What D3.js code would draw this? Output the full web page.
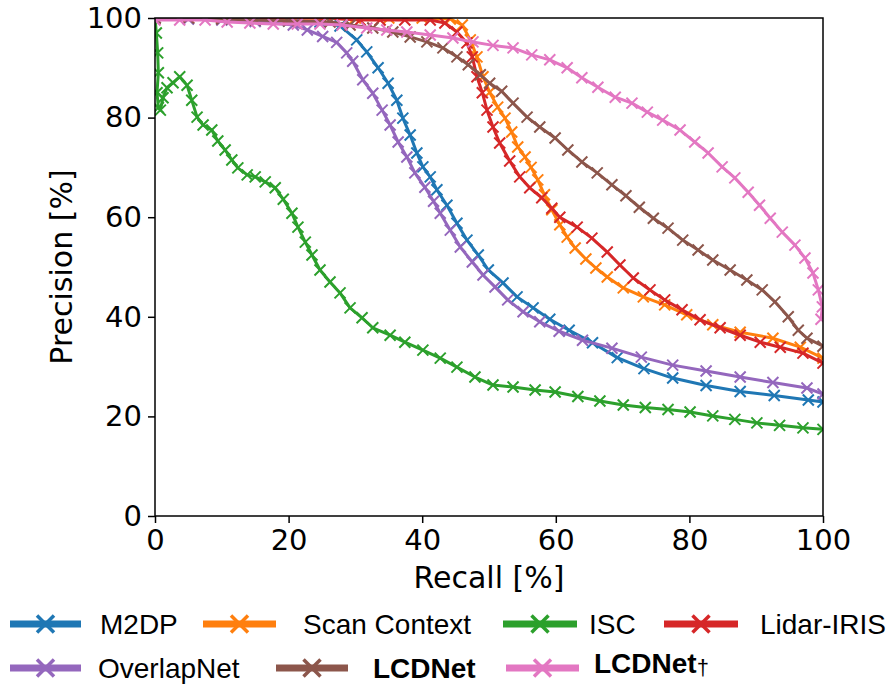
<!DOCTYPE html>
<html>
<head>
<meta charset="utf-8">
<script src="https://cdn.jsdelivr.net/npm/d3@7.9.0/dist/d3.min.js"></script>
<style>
  body { margin: 0; background: #fff; }
  svg { display: block; }
</style>
</head>
<body>
<svg id="chart" width="892" height="686"></svg>
<script>
// recall / precision values, in percent
const m2dpRecall = [0, 5, 10, 15, 20, 24.7, 27.7, 30.2, 31.7, 33.4, 34.9, 36.2, 37.1, 38.2, 39.2, 40.1, 41.2, 42.2, 43.7, 45.2, 46.7, 48.4, 49.9, 52.1, 54.2, 56.6, 59.1, 62, 65.5, 69.2, 73.2, 77.5, 82.5, 87.6, 92.7, 97.8, 100];
const m2dpPrecision = [100, 99.9, 99.8, 99.6, 99.4, 99.2, 98.4, 95.6, 93.2, 90, 86.9, 83.5, 79.9, 76.5, 72.9, 70.1, 68.1, 65.5, 62.4, 58.8, 55.4, 52.4, 49.4, 46.8, 44, 41.8, 39.5, 37.3, 34.8, 31.8, 29.6, 27.7, 26.2, 25, 24.2, 23.3, 22.9];

const scRecall = [0, 5, 10, 15, 20, 25, 30, 35, 40, 44.2, 46, 47.2, 48.2, 49.1, 50.1, 51.3, 52.4, 53.4, 54.3, 55.4, 56.3, 57.3, 58.3, 59.4, 60.6, 61.7, 62.9, 64.5, 66, 67.7, 70.1, 73.1, 76.3, 79.6, 83.5, 87.6, 92.5, 96.6, 100];
const scPrecision = [100, 100, 100, 100, 100, 100, 100, 100, 100, 99.8, 98.6, 95.6, 92.2, 88.2, 85.1, 82.1, 79.9, 77.1, 74.1, 72.1, 70, 67.5, 64.5, 61.5, 58.5, 56, 53.8, 51.6, 49.8, 48, 45.8, 44, 42.4, 40.4, 38.4, 36.9, 35.7, 33.9, 31.7];

const iscRecall = [0, 0.2, 0.4, 0.5, 0.3, 0.5, 0.8, 1.2, 1.8, 2.7, 3.7, 4.8, 5.5, 6.3, 7.2, 8.5, 9.4, 10.5, 11.5, 12.4, 13.8, 15.0, 16.5, 18.0, 19.2, 20.5, 21.4, 22.5, 23.5, 24.7, 26.2, 27.7, 29.2, 31.0, 32.6, 35.2, 37.4, 40.1, 42.7, 45.2, 47.9, 50.6, 53.6, 56.9, 59.9, 63.3, 66.6, 70.1, 73.4, 76.8, 80.1, 83.5, 86.8, 90.1, 93.5, 97.0, 100];
const iscPrecision = [100, 97, 93, 89, 85, 82, 81.5, 84, 86, 87, 88.2, 86.5, 83.5, 80.1, 78.5, 77.5, 75.3, 73.5, 71.5, 69.9, 68.5, 68.1, 67.1, 65.9, 63.6, 60.8, 58, 55, 52.4, 49.4, 47, 44.8, 41.8, 39.8, 37.8, 36.3, 34.9, 33.3, 31.7, 29.9, 27.9, 26.3, 25.9, 25.3, 24.9, 24, 23.1, 22.3, 21.8, 21.4, 20.9, 20.1, 19.4, 18.7, 18.2, 17.7, 17.4];

const irisRecall = [0, 5, 10, 15, 20, 25, 30.7, 33.7, 37.4, 41.2, 43.4, 45.2, 46.7, 47.5, 48.2, 49, 49.7, 50.6, 51.6, 53.1, 54.6, 56.1, 57.9, 59.4, 60.6, 63.2, 65.4, 67.7, 69.6, 71.6, 74.1, 76.3, 78.9, 81.6, 84.6, 87.6, 90.6, 93.6, 97, 100];
const irisPrecision = [100, 100, 100, 100, 100, 100, 99.6, 99.6, 99.6, 99.6, 99, 97.2, 95, 92.2, 88.2, 85, 81.5, 78.1, 74.9, 71.3, 68.1, 65.9, 63.9, 61.8, 60, 58, 55.8, 53, 50.4, 47.8, 45.4, 43.4, 41.4, 39.4, 37.8, 36.3, 34.9, 33.9, 32.7, 30.7];

const overlapRecall = [0, 5, 10, 15, 20.7, 22.8, 25.1, 27.2, 28.7, 29.6, 31.1, 32.6, 34, 35.2, 36.4, 37.7, 38.9, 40.4, 41.7, 42.7, 44.2, 45.7, 47.5, 49.1, 50.9, 52.8, 55.1, 57.6, 60.5, 64, 68.4, 72.8, 77.5, 82.5, 87.6, 92.5, 97.6, 100];
const overlapPrecision = [100, 99.8, 99.6, 99.3, 98.6, 97.6, 96.3, 95.1, 93, 91.3, 87.6, 84.9, 81.5, 78.5, 75.1, 72.1, 68.9, 66, 63.2, 60.8, 57.4, 54, 51, 48.4, 46, 43.4, 41, 39, 37.1, 35.3, 33.7, 31.9, 30.3, 29.1, 27.9, 26.8, 25.7, 24.5];

const lcdRecall = [0, 5, 10, 15, 20, 26.2, 29.2, 32.6, 35.6, 38.2, 40.7, 43.1, 45.2, 46.9, 48.7, 50.1, 51.9, 53.6, 55.7, 57.6, 59.9, 61.8, 63.9, 66.2, 68.4, 70.5, 72.5, 74.6, 76.8, 79, 81.3, 83.5, 86.1, 88.6, 90.9, 92.8, 94.8, 96.3, 97.6, 100];
const lcdPrecision = [100, 100, 99.8, 99.6, 99.4, 99.2, 98.6, 98, 97.2, 96.2, 95.2, 94, 92.2, 90.6, 88.6, 86.9, 85.3, 82.9, 80.1, 78.1, 75.9, 73.5, 71.1, 68.9, 66.5, 64.3, 62, 59.8, 57.8, 55.4, 53.4, 51.4, 49.4, 47.4, 45.4, 43, 40, 37.3, 35.7, 34.1];

const lcdDagRecall = [0, 3.7, 7.5, 10.8, 14.2, 17.7, 21.3, 24.7, 28, 31.7, 34.7, 37.7, 41.2, 44.6, 47.6, 50.6, 53.6, 56.4, 59.1, 61.7, 63.9, 66.3, 68.9, 71.4, 73.7, 76, 78.6, 80.8, 82.8, 84.9, 86.8, 88.8, 90.5, 92.1, 93.9, 95.8, 97.3, 98.5, 99.3, 99.9, 99.7];
const lcdDagPrecision = [99.6, 99.6, 99.6, 99.2, 99, 98.8, 98.8, 98.8, 98.6, 98, 97.6, 97.2, 96.6, 96, 95.2, 94.5, 94, 92.6, 91.6, 90, 88, 86.1, 84.1, 82.9, 81.1, 79.5, 77.5, 75.1, 72.9, 70.1, 67.9, 65, 62.4, 59.8, 57, 54.4, 51.8, 48.8, 45.4, 42, 39.5];

const seriesNames = ["M2DP", "Scan Context", "ISC", "Lidar-IRIS", "OverlapNet", "LCDNet", "LCDNet"];
const seriesColors = ["#1f77b4", "#ff7f0e", "#2ca02c", "#d62728", "#9467bd", "#8c564b", "#e377c2"];
const seriesRecall = [m2dpRecall, scRecall, iscRecall, irisRecall, overlapRecall, lcdRecall, lcdDagRecall];
const seriesPrecision = [m2dpPrecision, scPrecision, iscPrecision, irisPrecision, overlapPrecision, lcdPrecision, lcdDagPrecision];

const xTicks = [0, 20, 40, 60, 80, 100];
const yTicks = [0, 20, 40, 60, 80, 100];

const svg = d3.select("#chart");
const plotLeft = 155, plotRight = 823, plotTop = 18, plotBottom = 516;
const axisFont = "DejaVu Sans, sans-serif";

const x = d3.scaleLinear().domain([0, 100]).range([plotLeft, plotRight]);
const y = d3.scaleLinear().domain([0, 100]).range([plotBottom, plotTop]);

svg.append("defs").append("clipPath").attr("id", "plot-clip")
  .append("rect").attr("x", plotLeft).attr("y", plotTop)
  .attr("width", plotRight - plotLeft).attr("height", plotBottom - plotTop);

const line = d3.line().x((d) => x(d[0])).y((d) => y(d[1]));

function crossPath(s) {
  return `M${-s},${-s}L${s},${s}M${-s},${s}L${s},${-s}`;
}

const plot = svg.append("g").attr("clip-path", "url(#plot-clip)");

seriesNames.forEach((name, i) => {
  const pts = seriesRecall[i].map((r, j) => [r, seriesPrecision[i][j]]);
  const g = plot.append("g");
  g.append("path")
    .attr("d", line(pts))
    .attr("fill", "none")
    .attr("stroke", seriesColors[i])
    .attr("stroke-width", 3)
    .attr("stroke-linejoin", "round");
  g.selectAll("path.mk")
    .data(pts)
    .join("path")
    .attr("class", "mk")
    .attr("d", crossPath(5.5))
    .attr("transform", (d) => `translate(${x(d[0])},${y(d[1])})`)
    .attr("stroke", seriesColors[i])
    .attr("stroke-width", 2);
});

// axes
const xAxis = svg.append("g").attr("transform", `translate(0,${plotBottom})`)
  .call(d3.axisBottom(x).tickValues(xTicks).tickSize(7).tickPadding(6));
const yAxis = svg.append("g").attr("transform", `translate(${plotLeft},0)`)
  .call(d3.axisLeft(y).tickValues(yTicks).tickSize(7).tickPadding(6));

[xAxis, yAxis].forEach((ax) => {
  ax.select(".domain").remove();
  ax.selectAll(".tick line").attr("stroke", "#000").attr("stroke-width", 1.5);
  ax.selectAll(".tick text").attr("font-family", axisFont).attr("font-size", 29).attr("fill", "#000");
});

svg.append("rect")
  .attr("x", plotLeft).attr("y", plotTop)
  .attr("width", plotRight - plotLeft).attr("height", plotBottom - plotTop)
  .attr("fill", "none").attr("stroke", "#000").attr("stroke-width", 1.5);

svg.append("text")
  .attr("x", (plotLeft + plotRight) / 2).attr("y", 588)
  .attr("text-anchor", "middle")
  .attr("font-family", axisFont).attr("font-size", 30)
  .text("Recall [%]");

svg.append("text")
  .attr("transform", `translate(72,${(plotTop + plotBottom) / 2}) rotate(-90)`)
  .attr("text-anchor", "middle")
  .attr("font-family", axisFont).attr("font-size", 30)
  .text("Precision [%]");

// legend placement (line start, line end, text start, row y, text shift)
const legendLayout = [
  [10, 81, 100, 624, 0], [203, 276, 303, 624, 0], [503, 577, 589, 624, 0], [664, 738, 760, 624, 0],
  [10, 81, 98, 668, 0], [276, 348, 373, 668, 0], [506, 579, 594, 668, -5],
];

const legend = svg.append("g");
seriesNames.forEach((name, i) => {
  const [x1, x2, tx, ly, shift] = legendLayout[i];
  const item = legend.append("g");
  item.append("line")
    .attr("x1", x1).attr("x2", x2).attr("y1", ly).attr("y2", ly)
    .attr("stroke", seriesColors[i]).attr("stroke-width", 7);
  item.append("path")
    .attr("d", crossPath(8.5))
    .attr("transform", `translate(${(x1 + x2) / 2},${ly})`)
    .attr("stroke", seriesColors[i]).attr("stroke-width", 3.5);
  const t = item.append("text")
    .attr("x", tx).attr("y", ly + 10 + shift)
    .attr("font-family", "Liberation Sans, Arial, sans-serif")
    .attr("font-size", 28)
    .attr("font-weight", i >= 5 ? "bold" : "normal")
    .text(name);
  if (i === 6) {
    t.append("tspan").attr("font-weight", "normal").attr("font-size", 22).attr("dy", 2).text("\u2020");
  }
});
</script>
</body>
</html>
